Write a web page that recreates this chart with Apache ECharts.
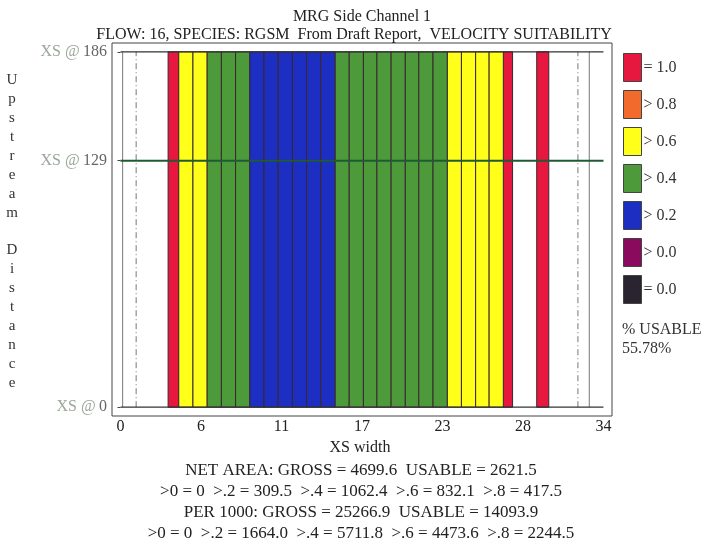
<!DOCTYPE html>
<html>
<head>
<meta charset="utf-8">
<script src="https://cdn.jsdelivr.net/npm/echarts@6/dist/echarts.min.js"></script>
<style>html,body{margin:0;padding:0;background:#fff}#c{width:706px;height:540px}</style>
</head>
<body>
<div id="c"></div>
<script>
// ---- data ----
const suitClasses = ['= 1.0', '> 0.8', '> 0.6', '> 0.4', '> 0.2', '> 0.0', '= 0.0'];
const classColors = ['#e6183f', '#f26b2c', '#ffff1a', '#4d9a3a', '#1d2ec2', '#8a0a5e', '#2a2430'];
// columns across the XS width (start, end, suitability class)
const colStart = [3.35, 4.1, 5.1, 6.1, 7.1, 8.1, 9.1, 10.1, 11.1, 12.1, 13.1, 14.1, 15.1, 16.1, 17.1, 18.05, 19.05, 20.05, 21.0, 22.0, 23.0, 24.0, 25.0, 25.95, 26.95, 29.3];
const colEnd   = [4.1, 5.1, 6.1, 7.1, 8.1, 9.1, 10.1, 11.1, 12.1, 13.1, 14.1, 15.1, 16.1, 17.1, 18.05, 19.05, 20.05, 21.0, 22.0, 23.0, 24.0, 25.0, 25.95, 26.95, 27.6, 30.15];
const colClass = ['= 1.0', '> 0.6', '> 0.6', '> 0.4', '> 0.4', '> 0.4',
  '> 0.2', '> 0.2', '> 0.2', '> 0.2', '> 0.2', '> 0.2',
  '> 0.4', '> 0.4', '> 0.4', '> 0.4', '> 0.4', '> 0.4', '> 0.4', '> 0.4',
  '> 0.6', '> 0.6', '> 0.6', '> 0.6', '= 1.0', '= 1.0'];
// cross sections (upstream distance)
const xsStations = [0, 129, 186];
const xsWidthMax = 34;
const xTickLabels = [0, 6, 11, 17, 23, 28, 34];
// reference verticals (edges) in XS width units
const edgeLines = [0.15, 1.1, 32.2, 33.0];
const edgeDashed = [false, true, true, false];
// stats text values
const usablePct = '55.78%';
const netGross = 4699.6, netUsable = 2621.5;
const netBands = [0, 309.5, 1062.4, 832.1, 417.5];
const perGross = 25266.9, perUsable = 14093.9;
const perBands = ['0', '1664.0', '5711.8', '4473.6', '2244.5'];
const bandNames = ['>0', '>.2', '>.4', '>.6', '>.8'];

// ---- build ----
const SERIF = '"Liberation Serif", "DejaVu Serif", serif';
const yTop = xsStations[xsStations.length - 1], yBot = xsStations[0];

function renderCol(color) {
  return function (params, api) {
    const p0 = api.coord([api.value(0), yTop]);
    const p1 = api.coord([api.value(1), yBot]);
    return {
      type: 'rect',
      shape: { x: p0[0], y: p0[1], width: p1[0] - p0[0], height: p1[1] - p0[1] },
      style: { fill: color, stroke: '#3a2630', lineWidth: 1 }
    };
  };
}

const series = suitClasses.map((c, i) => {
  const data = [];
  colClass.forEach((k, j) => { if (k === c) data.push([colStart[j], colEnd[j]]); });
  return {
    type: 'custom', name: c, renderItem: renderCol(classColors[i]),
    itemStyle: { color: classColors[i] }, encode: { x: [0, 1] }, data: data, z: 2
  };
});

edgeLines.forEach((x, i) => {
  series.push({
    type: 'line', data: [[x, yBot], [x, yTop]], symbol: 'none', silent: true, z: 1,
    lineStyle: { color: '#555', width: 1, type: edgeDashed[i] ? [6, 3, 1, 3] : 'solid', opacity: 0.8 }
  });
});

xsStations.forEach(s => {
  const green = s !== yTop && s !== yBot;
  series.push({
    type: 'line', data: [[0, s], [xsWidthMax, s]], symbol: 'none', silent: true, z: 5,
    lineStyle: { color: green ? '#1f5a35' : '#333', width: green ? 2 : 1.2 }
  });
});

const statLines = [
  'NET AREA: GROSS = ' + netGross.toFixed(1) + '  USABLE = ' + netUsable.toFixed(1),
  bandNames.map((b, i) => b + ' = ' + (i === 0 ? netBands[i] : netBands[i].toFixed(1))).join('  '),
  'PER 1000: GROSS = ' + perGross.toFixed(1) + '  USABLE = ' + perUsable.toFixed(1),
  bandNames.map((b, i) => b + ' = ' + perBands[i]).join('  ')
];

const yName = 'Upstream Distance'.split('').join('\n');

const chart = echarts.init(document.getElementById('c'), null, { renderer: 'canvas' });
chart.setOption({
  animation: false,
  backgroundColor: '#fff',
  title: [
    { text: 'MRG Side Channel 1', left: 357, top: 4, textAlign: 'center',
      textStyle: { fontFamily: SERIF, fontSize: 16, fontWeight: 'normal', color: '#222' } },
    { text: 'FLOW: 16, SPECIES: RGSM  From Draft Report,  VELOCITY SUITABILITY', left: 349, top: 22, textAlign: 'center',
      textStyle: { fontFamily: SERIF, fontSize: 16, fontWeight: 'normal', color: '#222' } },
    { text: yName, left: 7, top: 66, textAlign: 'center',
      textStyle: { fontFamily: SERIF, fontSize: 15, fontWeight: 'normal', color: '#333', lineHeight: 18.9 } },
    { text: '% USABLE\n' + usablePct, left: 617, top: 315,
      textStyle: { fontFamily: SERIF, fontSize: 16, fontWeight: 'normal', color: '#333', lineHeight: 19 } },
    { text: statLines.join('\n'), left: 356, top: 455, textAlign: 'center',
      textStyle: { fontFamily: SERIF, fontSize: 17, fontWeight: 'normal', color: '#222', lineHeight: 21 } }
  ],
  legend: {
    orient: 'vertical', left: 623, top: 53, padding: 0, itemWidth: 18, itemHeight: 28, itemGap: 8,
    icon: 'rect', selectedMode: false, data: suitClasses,
    itemStyle: { borderColor: '#444', borderWidth: 1 },
    textStyle: { fontFamily: SERIF, fontSize: 16, color: '#333', padding: [0, 0, 0, -3] }
  },
  grid: { left: 112, top: 43, width: 500, height: 373, show: true, borderColor: '#444', borderWidth: 1 },
  xAxis: {
    type: 'value', min: -0.6, max: xsWidthMax + 0.6,
    axisLine: { show: false }, splitLine: { show: false }, axisTick: { show: false },
    axisLabel: {
      customValues: xTickLabels.map((_, i) => xsWidthMax * i / (xTickLabels.length - 1)),
      formatter: v => String(xTickLabels[Math.round(v / xsWidthMax * (xTickLabels.length - 1))]),
      fontFamily: SERIF, fontSize: 16, color: '#222', margin: 3
    },
    name: 'XS width', nameLocation: 'middle', nameGap: 17,
    nameTextStyle: { fontFamily: SERIF, fontSize: 16, color: '#222', padding: [0, 0, 0, -4] }
  },
  yAxis: {
    type: 'value', min: -4.6, max: 190.6,
    axisLine: { show: false }, splitLine: { show: false },
    axisTick: { show: true, customValues: xsStations, length: 3, inside: false, lineStyle: { color: '#444' } },
    axisLabel: {
      customValues: xsStations,
      formatter: v => '{a|XS @} {b|' + v + '}',
      margin: 5,
      rich: {
        a: { fontFamily: SERIF, fontSize: 16, color: '#9aa79a' },
        b: { fontFamily: SERIF, fontSize: 16, color: '#666' }
      }
    }
  },
  series: series
});
</script>
</body>
</html>
